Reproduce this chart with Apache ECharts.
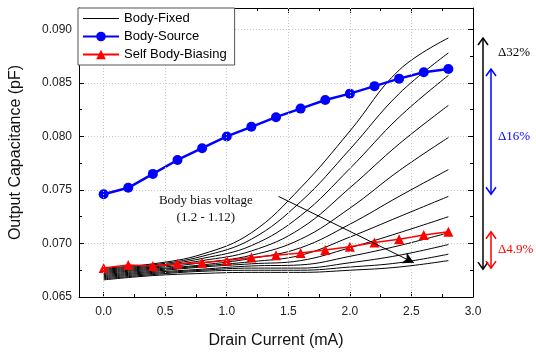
<!DOCTYPE html>
<head>
    <meta charset="utf-8"/>
</head>
<body style="margin:0;background:#fff;">
<div id="main" style="width:536px;height:354px;"></div>
<script src="https://cdn.jsdelivr.net/npm/echarts@6/dist/echarts.min.js"></script>
<script type="text/javascript">
// drain current points of the two marked series
var currentX = [0, 0.2, 0.4, 0.6, 0.8, 1.0, 1.2, 1.4, 1.6, 1.8, 2.0, 2.2, 2.4, 2.6, 2.8];
var bodySource = [0.0746, 0.0752, 0.0765, 0.0778, 0.0789, 0.0800, 0.0809, 0.0818, 0.0826, 0.0834, 0.0840, 0.0847, 0.0854, 0.0860, 0.0863];
var selfBiasing = [0.0677, 0.0680, 0.0679, 0.0681, 0.0682, 0.0684, 0.0687, 0.0689, 0.0691, 0.0694, 0.0697, 0.0701, 0.0704, 0.0708, 0.0711];

// body-fixed family (bias 1.2 ... 1.12), read at these currents
var fixedX = [0, 0.4, 0.8, 1.2, 1.6, 2.0, 2.4, 2.8];
var fixedCurves = [
    [0.0677, 0.0681, 0.0690, 0.0710, 0.0752, 0.0805, 0.0862, 0.0892],
    [0.0676, 0.0680, 0.0688, 0.0704, 0.0739, 0.0788, 0.0840, 0.0878],
    [0.0675, 0.0679, 0.0686, 0.0698, 0.0726, 0.0770, 0.0818, 0.0857],
    [0.0674, 0.0678, 0.0684, 0.0693, 0.0714, 0.0752, 0.0793, 0.0829],
    [0.0673, 0.0677, 0.0682, 0.0689, 0.0704, 0.0733, 0.0768, 0.0799],
    [0.0672, 0.0676, 0.0680, 0.0686, 0.0696, 0.0718, 0.0744, 0.0769],
    [0.0671, 0.0675, 0.0679, 0.0683, 0.0689, 0.0706, 0.0725, 0.0744],
    [0.0670, 0.0674, 0.0678, 0.0681, 0.0684, 0.0696, 0.0710, 0.0725],
    [0.0669, 0.0673, 0.0676, 0.0679, 0.0680, 0.0688, 0.0698, 0.0710],
    [0.0668, 0.0672, 0.0675, 0.0677, 0.0677, 0.0682, 0.0689, 0.0699],
    [0.0667, 0.0671, 0.0674, 0.0675, 0.0675, 0.0678, 0.0682, 0.0690],
    [0.0666, 0.0670, 0.0672, 0.0673, 0.0673, 0.0675, 0.0678, 0.0684]
];

var xTicks = [0, 0.5, 1.0, 1.5, 2.0, 2.5, 3.0];
var xMinorTicks = [0.25, 0.75, 1.25, 1.75, 2.25, 2.75];
var xGrid = [0, 0.5, 1.0, 1.5, 2.0, 2.5];

// annotation anchors (data coords)
var biasArrow = [[1.42, 0.0744], [2.52, 0.0682]];
var biasText = [0.83, 0.0741];
var delta32 = [0.0892, 0.0676];
var delta16 = [0.0863, 0.0746];
var delta49 = [0.0711, 0.0677];
var deltaLabelY = [0.0878, 0.0800, 0.0694];

var sans = '"Liberation Sans", Arial, sans-serif';
var serif = '"Liberation Serif", "Times New Roman", serif';

function zip(xs, ys) {
    return ys.map(function (y, i) { return [xs[i], y]; });
}

var myChart = echarts.init(document.getElementById('main'));

var series = [];
fixedCurves.forEach(function (c) {
    series.push({
        name: 'Body-Fixed', type: 'line', data: zip(fixedX, c),
        smooth: 0.4, symbol: 'none', z: 2,
        lineStyle: {color: '#000', width: 1}, itemStyle: {color: '#000'}
    });
});
series.push({
    name: 'Body-Source', type: 'line', data: zip(currentX, bodySource),
    symbol: 'circle', symbolSize: 10, z: 4,
    lineStyle: {color: '#0000ff', width: 2.5}, itemStyle: {color: '#0000ff'}
});
series.push({
    name: 'Self Body-Biasing', type: 'line', data: zip(currentX, selfBiasing),
    symbol: 'triangle', symbolSize: 10, z: 4,
    lineStyle: {color: '#ff0000', width: 1.5}, itemStyle: {color: '#ff0000'}
});
// vertical grid lines + bias arrow
series.push({
    type: 'line', data: [], silent: true, z: 1,
    markLine: {
        silent: true, symbol: 'none', animation: false,
        label: {show: false},
        lineStyle: {color: '#c8c8c8', type: [1, 2], width: 1},
        data: xGrid.map(function (v) { return {xAxis: v}; })
    }
});
series.push({
    type: 'line', data: [], silent: true, z: 5,
    markLine: {
        silent: true, symbol: ['none', 'arrow'], symbolSize: [9, 11], animation: false,
        label: {show: false},
        lineStyle: {color: '#000', type: 'solid', width: 1},
        data: [[{coord: biasArrow[0]}, {coord: biasArrow[1]}]]
    }
});

var frameTick = {inside: true, length: 5, lineStyle: {color: '#000'}};

options = {
    animation: false,
    grid: {left: 77, right: 63, top: 8, bottom: 57},
    legend: {
        data: [
            {name: 'Body-Fixed', itemStyle: {opacity: 0}, lineStyle: {width: 1}},
            'Body-Source',
            'Self Body-Biasing'
        ],
        orient: 'vertical', left: 78, top: 8,
        backgroundColor: '#fff', borderColor: '#555', borderWidth: 1,
        padding: [4, 8, 4, 4], itemGap: 5, itemWidth: 36, itemHeight: 12,
        textStyle: {fontFamily: sans, fontSize: 13, color: '#000'},
        z: 10
    },
    xAxis: [{
        type: 'value', min: -0.2, max: 3.0, position: 'bottom',
        name: 'Drain Current (mA)', nameLocation: 'middle', nameGap: 36,
        nameTextStyle: {fontFamily: sans, fontSize: 16, color: '#111'},
        axisLine: {onZero: false, lineStyle: {color: '#000', width: 1}},
        axisTick: {inside: true, length: 5, customValues: xTicks, lineStyle: {color: '#000'}},
        axisLabel: {customValues: xTicks, margin: 9, fontFamily: sans, fontSize: 12, color: '#222',
            formatter: function (v) { return v.toFixed(1); }},
        splitLine: {show: false}
    }, {
        type: 'value', min: -0.2, max: 3.0, position: 'bottom',
        axisLine: {show: false, onZero: false},
        axisTick: {inside: true, length: 3, customValues: xMinorTicks, lineStyle: {color: '#000'}},
        axisLabel: {show: false}, splitLine: {show: false}
    }, {
        type: 'value', min: -0.2, max: 3.0, position: 'top',
        axisLine: {onZero: false, lineStyle: {color: '#000', width: 1}},
        axisTick: {inside: true, length: 5, customValues: xTicks, lineStyle: {color: '#000'}},
        axisLabel: {show: false}, splitLine: {show: false}
    }, {
        type: 'value', min: -0.2, max: 3.0, position: 'top',
        axisLine: {show: false, onZero: false},
        axisTick: {inside: true, length: 3, customValues: xMinorTicks, lineStyle: {color: '#000'}},
        axisLabel: {show: false}, splitLine: {show: false}
    }],
    yAxis: [{
        type: 'value', min: 0.065, max: 0.092, interval: 0.005, position: 'left',
        name: 'Output Capacitance (pF)', nameLocation: 'middle', nameGap: 55,
        nameTextStyle: {fontFamily: sans, fontSize: 16, color: '#111'},
        axisLine: {onZero: false, lineStyle: {color: '#000', width: 1}},
        axisTick: frameTick,
        minorTick: {show: true, splitNumber: 2, length: 3, lineStyle: {color: '#000'}},
        axisLabel: {margin: 7, fontFamily: sans, fontSize: 12, color: '#222', showMaxLabel: false,
            formatter: function (v) { return v.toFixed(3); }},
        splitLine: {show: true, lineStyle: {color: '#c8c8c8', type: [1, 2], width: 1}}
    }, {
        type: 'value', min: 0.065, max: 0.092, interval: 0.005, position: 'right',
        axisLine: {onZero: false, lineStyle: {color: '#000', width: 1}},
        axisTick: frameTick,
        minorTick: {show: true, splitNumber: 2, length: 3, lineStyle: {color: '#000'}},
        axisLabel: {show: false}, splitLine: {show: false}
    }],
    series: series
};

myChart.setOption(options);

// annotations placed through the axes
function px(x, y) {
    return myChart.convertToPixel({xAxisIndex: 0, yAxisIndex: 0}, [x, y]);
}
function head(x, y, dir, color) {
    return {type: 'polyline', shape: {points: [[x - 5, y + 7 * dir], [x, y], [x + 5, y + 7 * dir]]},
        style: {stroke: color, lineWidth: 1.5, fill: null}, z: 20};
}
function doubleArrow(x, pair, color) {
    var y1 = px(0, pair[0])[1], y2 = px(0, pair[1])[1];
    return [
        {type: 'line', shape: {x1: x, y1: y1, x2: x, y2: y2}, style: {stroke: color, lineWidth: 1.5}, z: 20},
        head(x, y1, 1, color),
        head(x, y2, -1, color)
    ];
}
var rightX = px(3.0, 0.07)[0];
var bt = px(biasText[0], biasText[1]);
var gr = [];
gr = gr.concat(doubleArrow(rightX + 10, delta32, '#000'));
gr = gr.concat(doubleArrow(rightX + 18, delta16, '#0000ff'));
gr = gr.concat(doubleArrow(rightX + 18, delta49, '#ff0000'));
gr.push({type: 'text', x: rightX + 25, y: px(0, deltaLabelY[0])[1],
    style: {text: '\u039432%', fontFamily: serif, fontSize: 13, fill: '#000', textVerticalAlign: 'middle'}});
gr.push({type: 'text', x: rightX + 25, y: px(0, deltaLabelY[1])[1],
    style: {text: '\u039416%', fontFamily: serif, fontSize: 13, fill: '#0000ff', textVerticalAlign: 'middle'}});
gr.push({type: 'text', x: rightX + 25, y: px(0, deltaLabelY[2])[1],
    style: {text: '\u03944.9%', fontFamily: serif, fontSize: 13, fill: '#ff0000', textVerticalAlign: 'middle'}});
gr.push({type: 'text', x: bt[0], y: bt[1] - 8, z: 20,
    style: {text: 'Body bias voltage\n(1.2 - 1.12)', fontFamily: serif, fontSize: 13, lineHeight: 17,
        fill: '#111', textAlign: 'center', textVerticalAlign: 'top', backgroundColor: '#fff'}});
myChart.setOption({graphic: gr});
</script>
</body>
